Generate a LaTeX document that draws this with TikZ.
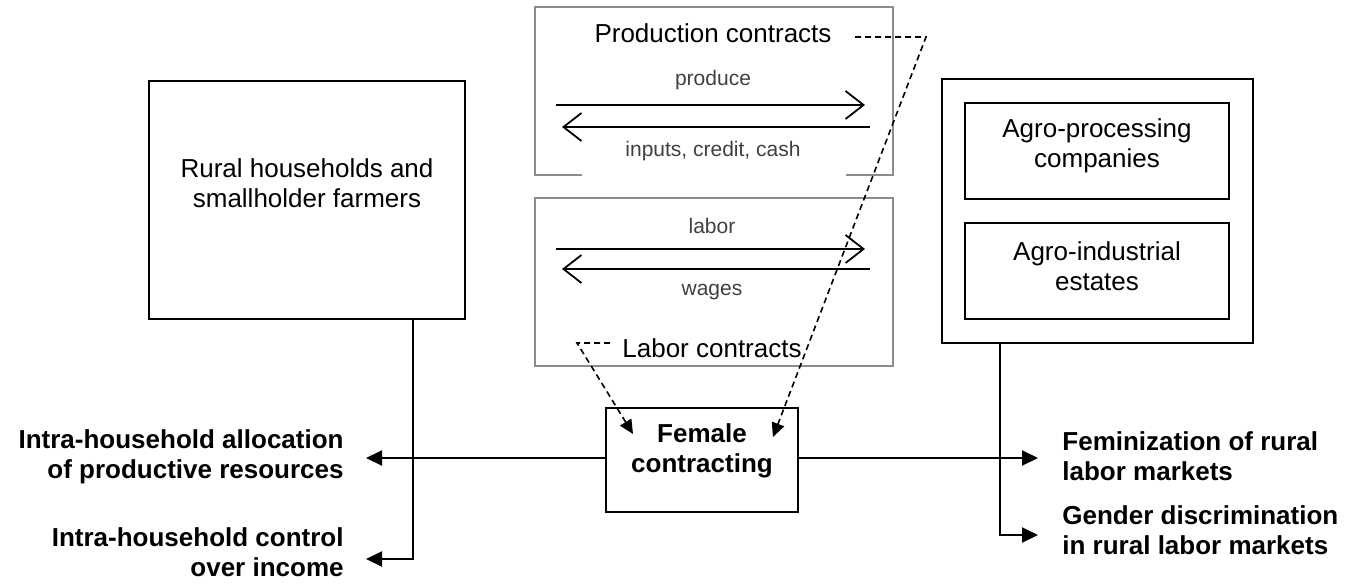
\documentclass[tikz,border=0pt]{standalone}
\usepackage{fontspec}
\setmainfont{Liberation Sans}
\usetikzlibrary{arrows.meta}
\definecolor{boxgray}{HTML}{8C8C8C}
\definecolor{txtgray}{HTML}{404040}
\begin{document}
\begin{tikzpicture}[x=0.5pt,y=-0.5pt,
  box/.style={draw=black, line width=1pt, inner sep=0pt},
  gbox/.style={draw=boxgray, line width=1pt, inner sep=0pt},
  big/.style={font=\fontsize{13}{15}\selectfont, align=center, inner sep=0pt},
  boldl/.style={font=\fontsize{13}{15}\selectfont\bfseries, inner sep=0pt},
  small/.style={font=\fontsize{10.5}{12}\selectfont, text=txtgray, inner sep=0pt},
  solidarrow/.style={line width=1pt, -{Triangle[length=8pt,width=7.5pt]}},
  openarrow/.style={line width=0.9pt, -{Straight Barb[length=9pt,width=14pt,line width=0.9pt]}},
  dasharrow/.style={line width=0.8pt, dash pattern=on 3pt off 2pt, -{Triangle[length=7pt,width=6.5pt]}},
]
\useasboundingbox (0,0) rectangle (1349,584);

% left box
\node[box, minimum width=158pt, minimum height=119pt] (rural) at (307,200) {};
\node[big] (ruraltxt) at (307,183) {Rural households and\\smallholder farmers};

% production contracts box
\node[gbox, minimum width=179pt, minimum height=84pt] (prod) at (713.5,91) {};
\node[fill=white, inner sep=0pt, minimum width=132pt, minimum height=21pt, anchor=south] (gap) at (714,177) {};
\node[big] (prodtxt) at (713,33) {Production contracts};
\node[small] (produce) at (713,80) {produce};
\node[small] (inputs) at (713,151) {inputs, credit, cash};
\coordinate (p1a) at (556,105); \coordinate (p1b) at (865,105);
\coordinate (p2a) at (870,127); \coordinate (p2b) at (562,127);
\draw[openarrow] (p1a) -- (p1b);
\draw[openarrow] (p2a) -- (p2b);

% labor contracts box
\node[gbox, minimum width=179pt, minimum height=84pt] (lab) at (713.5,282) {};
\node[big] (labtxt) at (712,348) {Labor contracts};
\node[small] (labor) at (712,226) {labor};
\node[small] (wages) at (712,292) {wages};
\coordinate (l1a) at (556,249); \coordinate (l1b) at (865,249);
\coordinate (l2a) at (870,269); \coordinate (l2b) at (562,269);
\draw[openarrow] (l1a) -- (l1b);
\draw[openarrow] (l2a) -- (l2b);

% right box
\node[box, minimum width=155.5pt, minimum height=132pt] (agro) at (1097.5,211) {};
\node[box, minimum width=132pt, minimum height=48pt] (proc) at (1097,151) {};
\node[big] (proctxt) at (1097,146) {Agro-processing\\companies};
\node[box, minimum width=132pt, minimum height=48pt] (est) at (1097,271) {};
\node[big] (esttxt) at (1097,266) {Agro-industrial\\estates};

% female contracting
\node[box, minimum width=96pt, minimum height=52pt] (fem) at (702,460) {};
\node[boldl, align=center] (femtxt) at (702,451) {Female\\contracting};

% outcome labels
\node[boldl, align=right, anchor=east] (alloc) at (344,457) {Intra-household allocation\\of productive resources};
\node[boldl, align=right, anchor=east] (control) at (344,552) {Intra-household control\\over income};
\node[boldl, align=left, anchor=west] (femin) at (1062,456) {Feminization of rural\\labor markets};
\node[boldl, align=left, anchor=west] (gender) at (1062,530) {Gender discrimination\\in rural labor markets};

% connectors
\coordinate (la) at (366,458);
\coordinate (ra) at (1038,458);
\coordinate (lb) at (366,559);
\coordinate (rb) at (1038,535);
\draw[solidarrow] (fem.west |- la) -- (la);
\draw[solidarrow] (fem.east |- ra) -- (ra);
\draw[solidarrow] (rural.south -| 413,0) -- (413,559) -- (lb);
\draw[solidarrow] (agro.south -| 1000,0) -- (1000,535) -- (rb);

% dashed links
\coordinate (d1s) at (855,37); \coordinate (d1c) at (926,37); \coordinate (d1e) at (773,437);
\draw[dasharrow] (d1s) -- (d1c) -- (d1e);
\coordinate (d2s) at (610,343); \coordinate (d2c) at (577,343); \coordinate (d2e) at (633,434);
\draw[dasharrow] (d2s) -- (d2c) -- (d2e);
\end{tikzpicture}
\end{document}
